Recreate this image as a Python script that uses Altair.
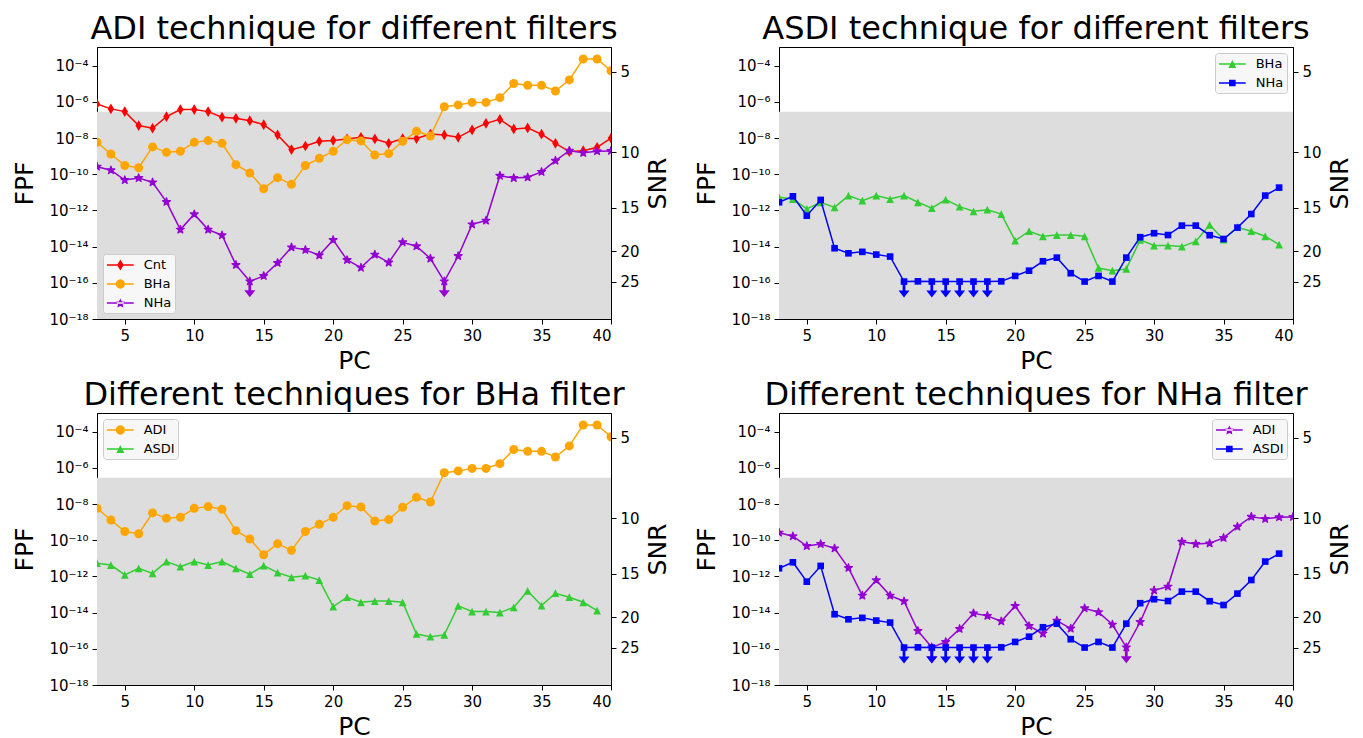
import altair as alt
import pandas as pd
import math
import re

# ---------------- data (log10 of FPF) ----------------
pc_all = list(range(3, 41))          # PC 3..40
pc_asdi = list(range(3, 40))         # PC 3..39

adi_cnt = [-6.12, -6.39, -6.54, -7.31, -7.46, -6.82, -6.43, -6.43, -6.54, -6.85,
           -6.91, -7.04, -7.26, -7.83, -8.64, -8.44, -8.18, -8.13, -8.05, -7.96,
           -8.05, -8.29, -8.03, -8.03, -7.78, -7.83, -7.96, -7.55, -7.19, -6.97,
           -7.50, -7.44, -7.79, -8.29, -8.75, -8.70, -8.51, -8.01]
adi_bha = [-8.24, -8.88, -9.52, -9.64, -8.49, -8.79, -8.73, -8.24, -8.14, -8.29,
           -9.47, -9.93, -10.80, -10.19, -10.56, -9.52, -9.12, -8.73, -8.09, -8.16,
           -8.94, -8.86, -8.18, -7.63, -7.89, -6.27, -6.17, -6.03, -6.03, -5.77,
           -4.99, -5.09, -5.09, -5.40, -4.79, -3.63, -3.63, -4.28]
adi_nha = [-9.58, -9.78, -10.32, -10.21, -10.45, -11.53, -13.06, -12.21, -13.06, -13.37,
           -15.01, -15.92, -15.62, -14.90, -14.04, -14.18, -14.48, -13.63, -14.74, -15.16,
           -14.44, -14.88, -13.76, -13.98, -14.66, -15.92, -14.52, -12.77, -12.56, -10.08,
           -10.21, -10.17, -9.87, -9.25, -8.70, -8.82, -8.73, -8.71]
asdi_bha = [-11.27, -11.37, -11.92, -11.55, -11.83, -11.18, -11.46, -11.18, -11.37, -11.18,
            -11.55, -11.88, -11.40, -11.79, -12.05, -11.96, -12.20, -13.67, -13.15, -13.43,
            -13.36, -13.36, -13.43, -15.18, -15.33, -15.23, -13.63, -13.94, -13.94, -14.00,
            -13.71, -12.80, -13.61, -12.93, -13.15, -13.43, -13.89]
asdi_nha = [-11.55, -11.22, -12.29, -11.42, -14.09, -14.37, -14.29, -14.44, -14.55, -15.93,
            -15.92, -15.93, -15.93, -15.93, -15.93, -15.93, -15.92, -15.62, -15.33, -14.81,
            -14.61, -15.47, -15.93, -15.62, -15.93, -14.61, -13.48, -13.26, -13.36, -12.84,
            -12.84, -13.37, -13.58, -12.95, -12.20, -11.18, -10.74]
adi_nha_uplims = [14, 28]
asdi_nha_uplims = [12, 14, 15, 16, 17, 18]

threshold_fpf = 2.87e-7               # top of grey region
fpf_exponents = [-4, -6, -8, -10, -12, -14, -16, -18]
snr_ticks = [5, 10, 15, 20, 25]
snr_tick_log10fpf = [-4.35, -8.78, -11.86, -14.25, -15.94]
x_ticks = [5, 10, 15, 20, 25, 30, 35, 40]

titles = ["ADI technique for different filters", "ASDI technique for different filters",
          "Different techniques for BHa filter", "Different techniques for NHa filter"]

RED, ORANGE, PURPLE, GREEN, BLUE = "#ff0000", "#ffa500", "#9400d3", "#32cd32", "#0000ff"

# ---------------- marker paths ----------------
def star_pts(R, cx=0.0, cy=0.0, inner=0.382):
    pts = []
    for k in range(10):
        ang = math.radians(90 + 36 * k)
        r = R if k % 2 == 0 else R * inner
        pts.append((cx + r * math.cos(ang), cy - r * math.sin(ang)))
    return pts

def poly(pts):
    return "M" + "L".join(f"{x:.3f},{y:.3f}" for x, y in pts) + "Z"

STAR = poly(star_pts(1.0))
THIN_DIAMOND = "M0,-1L0.6,0L0,1L-0.6,0Z"
TRI_UP = "M0,-1L1,1L-1,1Z"
HEAD = "M-1,-0.64L1,-0.64L0,0.64Z"

# legend symbols: line stub + marker (pixel units, then divided by LR)
LR = 8.0
def legend_path(kind):
    s0, s1, t = -7.0, 19.7, 0.8
    cx = 6.35
    parts = [poly([(s0, -t), (s1, -t), (s1, t), (s0, t)])]
    if kind == "diamond":
        parts.append(poly([(cx, -5.5), (cx + 3.3, 0), (cx, 5.5), (cx - 3.3, 0)]))
    elif kind == "circle":
        r = 4.6
        parts.append(f"M{cx + r},0A{r},{r} 0 1,1 {cx - r},0A{r},{r} 0 1,1 {cx + r},0Z")
    elif kind == "star":
        parts.append(poly(star_pts(5.0, cx, 0.4, inner=0.5)))
    elif kind == "triangle":
        parts.append(poly([(cx, -3.9), (cx + 3.9, 3.9), (cx - 3.9, 3.9)]))
    elif kind == "square":
        parts.append(poly([(cx - 3.3, -3.3), (cx + 3.3, -3.3), (cx + 3.3, 3.3), (cx - 3.3, 3.3)]))
    path = "".join(parts)

    def sc(m):
        return f"{float(m.group(0)) / LR:.4f}"
    out = []
    for seg in re.split(r"(?=[MLAZ])", path):
        if seg.startswith("A"):
            rx, ry, rot, la, sw, x, y = seg[1:].replace(",", " ").split()
            out.append(f"A{float(rx)/LR:.4f},{float(ry)/LR:.4f} {rot} {la},{sw} "
                       f"{float(x)/LR:.4f},{float(y)/LR:.4f}")
        else:
            out.append(re.sub(r"-?\d+\.?\d*", sc, seg))
    return "".join(out)

# shape, size, edge stroke width
MARK = {
    "diamond": (THIN_DIAMOND, 115, 0),
    "circle": ("circle", 81, 0),
    "star": (STAR, 68, 1.3),
    "triangle": (TRI_UP, 60, 0),
    "square": ("square", 44, 0),
}

# ---------------- shared encodings ----------------
W, H = 514, 272
Y_MIN, Y_MAX = 1e-18, 10 ** -2.97

sup = str.maketrans("-0123456789", "⁻⁰¹²³⁴⁵⁶⁷⁸⁹")
left_expr = "".join(
    f"abs(log(datum.value)/LN10 - ({e})) < 0.05 ? '10{str(e).translate(sup)}' : " for e in fpf_exponents
) + "''"
right_expr = "".join(
    f"abs(log(datum.value)/LN10 - ({v})) < 0.02 ? '{s}' : " for s, v in zip(snr_ticks, snr_tick_log10fpf)
) + "''"

YS = alt.Scale(type="log", domain=[Y_MIN, Y_MAX], nice=False)
XS = alt.Scale(domain=[3, 40], nice=False, zero=False)
YAX = alt.Axis(values=[10.0 ** e for e in fpf_exponents], labelExpr=left_expr,
               minExtent=46, maxExtent=46, titlePadding=14)
RAX = alt.Axis(orient="right", values=[10.0 ** v for v in snr_tick_log10fpf], labelExpr=right_expr,
               minExtent=28, maxExtent=28, titlePadding=6, titleAngle=270, titleBaseline="top")
XAX = alt.Axis(values=x_ticks, minExtent=24, maxExtent=24, titlePadding=5)

X = alt.X("PC:Q", scale=XS, axis=XAX, title="PC")
Y = alt.Y("FPF:Q", scale=YS, axis=YAX, title="FPF")

grey_df = pd.DataFrame({"x0": [3], "x1": [40], "y0": [Y_MIN], "y1": [threshold_fpf]})
snr_df = pd.DataFrame({"FPF": [10.0 ** v for v in snr_tick_log10fpf], "SNR": snr_ticks})


def make_panel(title, series, legend_orient):
    layers = [alt.Chart(grey_df).mark_rect(color="#dddddd").encode(
        x=alt.X("x0:Q", scale=XS, axis=XAX, title="PC"), x2="x1:Q",
        y=alt.Y("y0:Q", scale=YS, axis=YAX, title="FPF"), y2="y1:Q")]
    for s in series:
        df = pd.DataFrame({"PC": s["pc"], "FPF": [10.0 ** v for v in s["vals"]]})
        shape, size, sw = MARK[s["marker"]]
        layers.append(alt.Chart(df).mark_line(color=s["color"], strokeWidth=1.5, clip=True)
                      .encode(x=X, y=Y))
        layers.append(alt.Chart(df).mark_point(filled=True, opacity=1, shape=shape, size=size,
                                               fill=s["color"], stroke=s["color"], strokeWidth=sw,
                                               strokeJoin="round", clip=True)
                      .encode(x=X, y=Y))
        if s.get("uplims"):
            up = df[df["PC"].isin(s["uplims"])].copy()
            up["lo"] = up["FPF"] * 10 ** -0.6
            up["head"] = up["FPF"] * 10 ** -0.69
            layers.append(alt.Chart(up).mark_rule(color=s["color"], strokeWidth=2.8)
                          .encode(x=X, y=Y, y2="lo:Q"))
            layers.append(alt.Chart(up).mark_point(filled=True, opacity=1, shape=HEAD, size=121,
                                                   color=s["color"], strokeWidth=0)
                          .encode(x=X, y=alt.Y("head:Q", scale=YS, axis=YAX, title="FPF")))
    names = [s["name"] for s in series]
    leg = alt.Legend(title=None, orient=legend_orient, offset=6, padding=3, rowPadding=4,
                     fillColor="#f7f7f7", strokeColor="#cccccc", cornerRadius=3,
                     labelFontSize=13, labelFont="DejaVu Sans", labelColor="black",
                     symbolSize=LR * LR * 4, labelOffset=21.7, symbolStrokeWidth=0,
                     symbolOpacity=1)
    legend_layer = alt.Chart(pd.DataFrame({"series": names})).transform_filter("false").mark_point(
        filled=True, opacity=1).encode(
        color=alt.Color("series:N", scale=alt.Scale(domain=names, range=[s["color"] for s in series]),
                        legend=leg),
        shape=alt.Shape("series:N", scale=alt.Scale(domain=names,
                                                   range=[legend_path(s["marker"]) for s in series]),
                        legend=leg))
    layers.append(legend_layer)
    main = alt.layer(*layers)
    snr = alt.Chart(snr_df).mark_point(opacity=0).encode(
        y=alt.Y("FPF:Q", scale=YS, axis=RAX, title="SNR"))
    return alt.layer(main, snr).resolve_scale(y="independent").properties(
        width=W, height=H,
        title=alt.TitleParams(title, fontSize=32, font="DejaVu Sans", fontWeight="normal",
                              color="black", anchor="middle", frame="group", offset=1))


p1 = make_panel(titles[0], [
    dict(name="Cnt", pc=pc_all, vals=adi_cnt, color=RED, marker="diamond"),
    dict(name="BHa", pc=pc_all, vals=adi_bha, color=ORANGE, marker="circle"),
    dict(name="NHa", pc=pc_all, vals=adi_nha, color=PURPLE, marker="star", uplims=adi_nha_uplims),
], "bottom-left")
p2 = make_panel(titles[1], [
    dict(name="BHa", pc=pc_asdi, vals=asdi_bha, color=GREEN, marker="triangle"),
    dict(name="NHa", pc=pc_asdi, vals=asdi_nha, color=BLUE, marker="square", uplims=asdi_nha_uplims),
], "top-right")
p3 = make_panel(titles[2], [
    dict(name="ADI", pc=pc_all, vals=adi_bha, color=ORANGE, marker="circle"),
    dict(name="ASDI", pc=pc_asdi, vals=asdi_bha, color=GREEN, marker="triangle"),
], "top-left")
p4 = make_panel(titles[3], [
    dict(name="ADI", pc=pc_all, vals=adi_nha, color=PURPLE, marker="star", uplims=adi_nha_uplims),
    dict(name="ASDI", pc=pc_asdi, vals=asdi_nha, color=BLUE, marker="square", uplims=asdi_nha_uplims),
], "top-right")

row1 = alt.hconcat(p1, p2, spacing=22).resolve_scale(color="independent", shape="independent").resolve_legend(
    color="independent", shape="independent")
row2 = alt.hconcat(p3, p4, spacing=22).resolve_scale(color="independent", shape="independent").resolve_legend(
    color="independent", shape="independent")
chart = alt.vconcat(row1, row2, spacing=4).resolve_scale(color="independent", shape="independent").resolve_legend(
    color="independent", shape="independent")

chart = chart.configure(font="DejaVu Sans", padding={"left": 3, "top": 4, "right": 0, "bottom": 0}).configure_view(
    stroke="black", strokeWidth=1
).configure_axis(
    grid=False, domainColor="black", tickColor="black", labelColor="black", titleColor="black",
    titleFontWeight="normal", labelFontSize=15, titleFontSize=25, tickSize=5, labelPadding=4,
    domainWidth=1, tickWidth=1, labelFont="DejaVu Sans", titleFont="DejaVu Sans", zindex=1
)

chart.save("out.html", embed_options={"renderer": "svg", "actions": False})
